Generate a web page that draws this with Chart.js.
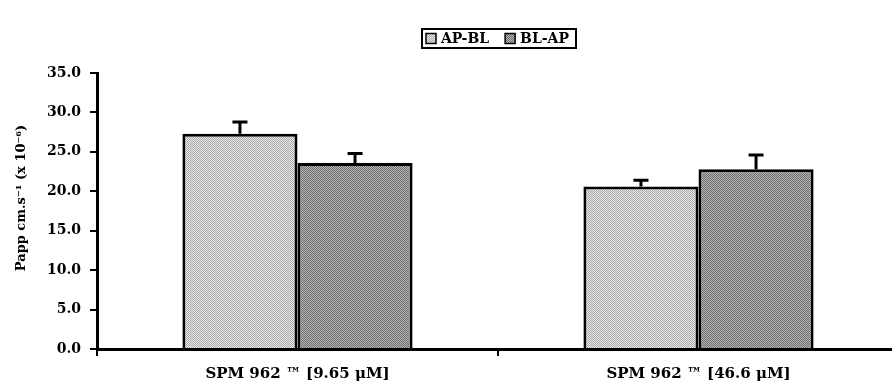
<!DOCTYPE html>
<html>
<head>
<meta charset="utf-8">
<script src="https://cdn.jsdelivr.net/npm/chart.js@4.4.1/dist/chart.umd.min.js"></script>
<style>
  html, body { margin: 0; padding: 0; background: #fff; overflow: hidden; }
  #wrap { width: 900px; height: 390px; }
</style>
</head>
<body>
<div id="wrap"><canvas id="c" width="900" height="390"></canvas></div>
<script>
// Permeability of SPM 962 in both transport directions
const categories = ['SPM 962 \u2122 [9.65 \u03BCM]', 'SPM 962 \u2122 [46.6 \u03BCM]'];
const seriesNames = ['AP-BL', 'BL-AP'];
const apBl = [27.3, 20.6];
const blAp = [23.6, 22.8];
const apBlErr = [1.5, 0.8];
const blApErr = [1.2, 1.8];
const yTicks = [0, 5, 10, 15, 20, 25, 30, 35];

const FONT = 'DejaVu Serif';

// stippled fill for the bars, built from a small fixed dither tile
function ditherPattern(dark, light) {
  const t = document.createElement('canvas');
  t.width = 4; t.height = 4;
  const g = t.getContext('2d');
  g.fillStyle = light; g.fillRect(0, 0, 4, 4);
  g.fillStyle = dark;
  [[0,0],[2,0],[1,1],[3,1],[0,2],[2,2],[1,3],[3,3]].forEach(([x, y]) => g.fillRect(x, y, 1, 1));
  return document.getElementById('c').getContext('2d').createPattern(t, 'repeat');
}
const lightFill = ditherPattern('#acacac', '#e6e6e6');
const darkFill = ditherPattern('#6c6c6c', '#b6b6b6');

// upward-only error bars
const errorBars = {
  id: 'errorBars',
  afterDatasetsDraw(chart) {
    const ctx = chart.ctx;
    const y = chart.scales.y;
    const errs = [apBlErr, blApErr];
    chart.data.datasets.forEach((ds, i) => {
      const meta = chart.getDatasetMeta(i);
      meta.data.forEach((bar, j) => {
        const top = y.getPixelForValue(ds.data[j] + errs[i][j]);
        const base = y.getPixelForValue(ds.data[j]);
        ctx.save();
        ctx.strokeStyle = '#000';
        ctx.lineWidth = 3;
        ctx.beginPath();
        ctx.moveTo(bar.x, base);
        ctx.lineTo(bar.x, top);
        ctx.moveTo(bar.x - 7.5, top);
        ctx.lineTo(bar.x + 7.5, top);
        ctx.stroke();
        ctx.restore();
      });
    });
  }
};

// boxed legend at the top and the rotated y-axis caption
const decorations = {
  id: 'decorations',
  afterDraw(chart) {
    const ctx = chart.ctx;
    ctx.save();
    ctx.font = 'bold 14px "' + FONT + '"';
    ctx.textBaseline = 'middle';
    ctx.fillStyle = '#000';
    const fills = [lightFill, darkFill];
    const boxL = 422, boxT = 29, boxH = 19;
    let x = boxL + 4;
    const cy = boxT + boxH / 2;
    seriesNames.forEach((name, i) => {
      ctx.fillStyle = fills[i];
      ctx.fillRect(x, cy - 5, 10, 10);
      ctx.strokeStyle = '#000';
      ctx.lineWidth = 1.5;
      ctx.strokeRect(x, cy - 5, 10, 10);
      ctx.fillStyle = '#000';
      ctx.fillText(name, x + 15, cy + 1);
      x += 15 + ctx.measureText(name).width + 16;
    });
    const boxW = x - 16 + 7 - boxL;
    ctx.lineWidth = 2;
    ctx.strokeStyle = '#000';
    ctx.strokeRect(boxL, boxT, boxW, boxH);

    ctx.translate(22, 198);
    ctx.rotate(-Math.PI / 2);
    ctx.textAlign = 'center';
    ctx.font = 'bold 13px "' + FONT + '"';
    ctx.fillText('Papp cm.s\u207B\u00B9 (x 10\u207B\u2076)', 0, 0);
    ctx.restore();
  }
};

new Chart(document.getElementById('c'), {
  type: 'bar',
  data: {
    labels: categories,
    datasets: [
      { label: seriesNames[0], data: apBl, backgroundColor: lightFill, borderColor: '#000', borderWidth: 3 },
      { label: seriesNames[1], data: blAp, backgroundColor: darkFill, borderColor: '#000', borderWidth: 3 }
    ]
  },
  options: {
    responsive: false,
    animation: false,
    layout: { padding: { top: 73, right: 1, left: 0, bottom: 0 } },
    datasets: { bar: { barPercentage: 1, categoryPercentage: 0.574, borderSkipped: 'bottom' } },
    plugins: { legend: { display: false }, tooltip: { enabled: false } },
    scales: {
      x: {
        afterFit(s) { s.height = 41; },
        grid: { drawOnChartArea: false, offset: true, tickLength: 7, color: '#000', lineWidth: 2 },
        border: { color: '#000', width: 3 },
        ticks: { color: '#000', font: { family: FONT, weight: 'bold', size: 15 }, padding: 9, maxRotation: 0 }
      },
      y: {
        min: 0, max: 35,
        afterFit(s) { s.width = 97; },
        afterBuildTicks(s) { s.ticks = yTicks.map(v => ({ value: v })); },
        grid: { drawOnChartArea: false, tickLength: 7, color: '#000', lineWidth: 2 },
        border: { color: '#000', width: 3 },
        ticks: { color: '#000', font: { family: FONT, weight: 'bold', size: 14 }, padding: 9, callback: v => Number(v).toFixed(1) }
      }
    }
  },
  plugins: [errorBars, decorations]
});
</script>
</body>
</html>
